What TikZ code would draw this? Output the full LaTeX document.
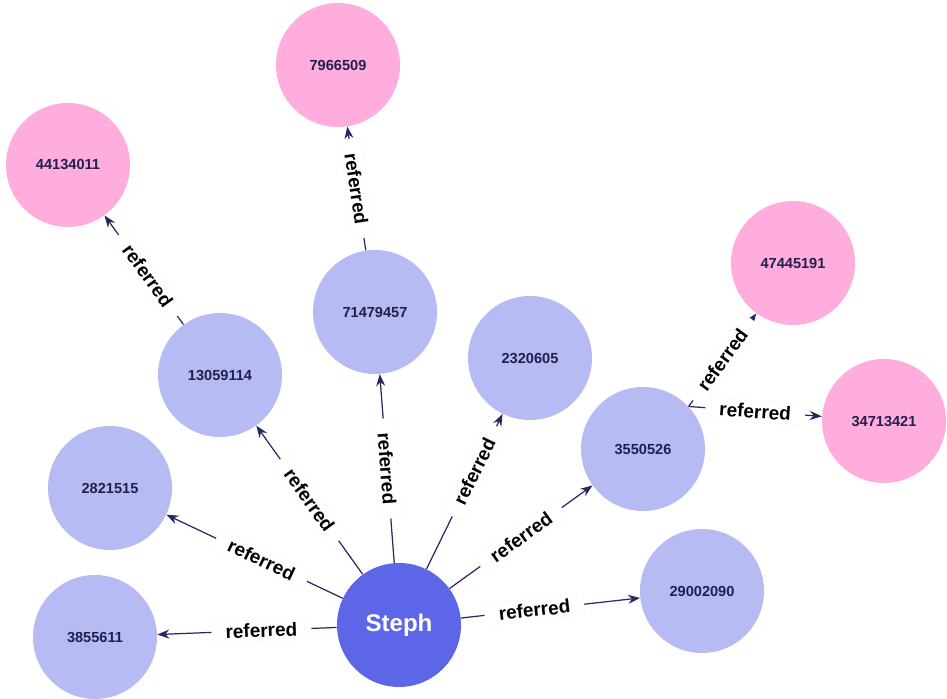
\documentclass[tikz,border=0pt]{standalone}
\usepackage{fontspec}
\setmainfont{Liberation Sans}
\usetikzlibrary{arrows.meta}
\usepackage{xcolor}
\definecolor{stephblue}{HTML}{5C66E6}
\definecolor{lavender}{HTML}{B6BCF3}
\definecolor{pinky}{HTML}{FFADDC}
\definecolor{edgenavy}{HTML}{2B2660}
\definecolor{textnavy}{HTML}{231E4E}

\begin{document}
\begin{tikzpicture}[
    member/.style={circle, fill=lavender, minimum size=2.48cm, inner sep=0pt, text=textnavy, font=\bfseries\fontsize{8.3}{10}\selectfont},
    leaf/.style={member, fill=pinky},
    root/.style={member, fill=stephblue, text=white, font=\bfseries\fontsize{13.7}{16}\selectfont},
    ref/.style={draw=edgenavy, line width=0.7pt, -{Stealth[length=2.4mm, width=1.8mm]}},
    lbl/.style={sloped, fill=white, draw=black!3, line width=0.2pt, inner xsep=0.28cm, inner ysep=0.08cm, text=black, font=\bfseries\fontsize{10.8}{13}\selectfont}
]
    \useasboundingbox (0,0) rectangle (18.94,13.98);

    % centre
    \node[root] (steph) at (7.98,1.48) {Steph};

    % first ring
    \node[member] (n3855611) at (1.90,1.24) {3855611};
    \node[member] (n2821515) at (2.20,4.22) {2821515};
    \node[member] (n13059114) at (4.40,6.48) {13059114};
    \node[member] (n71479457) at (7.50,7.74) {71479457};
    \node[member] (n2320605) at (10.60,6.82) {2320605};
    \node[member] (n3550526) at (12.86,5.00) {3550526};
    \node[member] (n29002090) at (14.04,2.16) {29002090};

    % second ring
    \node[leaf] (n44134011) at (1.36,10.68) {44134011};
    \node[leaf] (n7966509) at (6.76,12.68) {7966509};
    \node[leaf] (n47445191) at (15.86,8.72) {47445191};
    \node[leaf] (n34713421) at (17.68,5.56) {34713421};

    \draw[ref] (steph) -- node[lbl, pos=0.42] {referred} (n3855611);
    \draw[ref] (steph) -- node[lbl, pos=0.46] {referred} (n2821515);
    \draw[ref] (steph) -- node[lbl] {referred} (n13059114);
    \draw[ref] (steph) -- node[lbl] {referred} (n71479457);
    \draw[ref] (steph) -- node[lbl, pos=0.63] {referred} (n2320605);
    \draw[ref] (steph) -- node[lbl] {referred} (n3550526);
    \draw[ref] (steph) -- node[lbl, pos=0.41] {referred} (n29002090);

    \draw[ref] (n13059114) -- node[lbl, pos=0.45] {referred} (n44134011);
    \draw[ref] (n71479457) -- node[lbl] {referred} (n7966509);
    \draw[ref] (n3550526.43) -- node[lbl] {referred} (n47445191);
    \draw[ref] (n3550526.43) -- node[lbl] {referred} (n34713421);

\end{tikzpicture}
\end{document}
